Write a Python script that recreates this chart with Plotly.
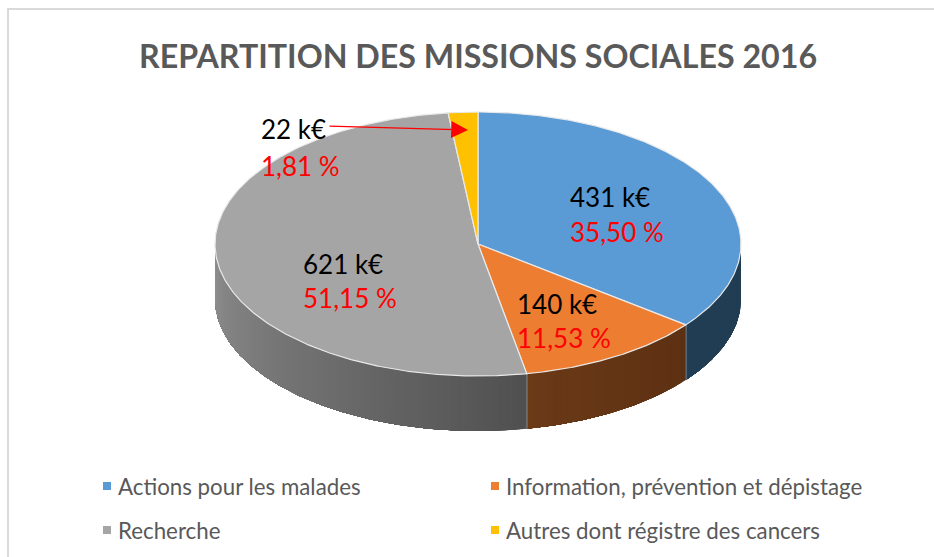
import math
import plotly.graph_objects as go

categories = ["Actions pour les malades", "Information, prévention et dépistage", "Recherche", "Autres dont régistre des cancers"]
amounts_keur = [431, 140, 621, 22]
percents = [35.50, 11.53, 51.15, 1.81]
colors = ["#5b9bd5", "#ed7d31", "#a5a5a5", "#ffc000"]
title_text = "REPARTITION DES MISSIONS SOCIALES 2016"

W, H = 934, 557
CX, CY, RX, RY, DEPTH = 478, 244, 263, 132, 55
label_pos = [(568, 197, 232), (515, 304, 338), (301, 264, 298), (259, 129, 166)]
legend_pos = [(106, 486), (494, 486), (106, 530), (494, 530)]
FONT = "Lato"


def pt(a, dy=0, k=1.0):
    r = math.radians(a)
    return CX + k * RX * math.sin(r), CY - k * RY * math.cos(r) + dy


def arc(a0, a1, dy=0):
    n = max(2, int(abs(a1 - a0) * 2))
    return [pt(a0 + (a1 - a0) * i / n, dy) for i in range(n + 1)]


def mix(c0, c1, t):
    return "rgb(%d,%d,%d)" % tuple(round(u + (v - u) * t) for u, v in zip(c0, c1))


side_ramp = [((33, 61, 84), (33, 61, 84)), ((92, 48, 18), (107, 58, 23)), ((80, 80, 80), (143, 143, 143))]

fig = go.Figure()
total = sum(amounts_keur)
edges = [0]
for v in amounts_keur:
    edges.append(edges[-1] + 360 * v / total)


def poly(points, fill, line=None, width=0):
    xs = [p[0] for p in points]
    ys = [p[1] for p in points]
    fig.add_trace(go.Scatter(x=xs, y=ys, mode="lines", fill="toself", fillcolor=fill,
                             line=dict(color=line or fill, width=width),
                             hoverinfo="skip", showlegend=False))


# extruded wall: only the front half (90 to 270 degrees) can be seen
for i in range(3):
    a0, a1 = max(edges[i], 90), min(edges[i + 1], 270)
    if a1 <= a0:
        continue
    n = max(2, int((a1 - a0) / 1.5))
    # each band reaches to the end of the slice and is overpainted by the next, so no seams appear
    for j in range(n):
        s0 = a0 + (a1 - a0) * j / n
        c = mix(side_ramp[i][0], side_ramp[i][1], (j + 0.5) / n)
        pts = arc(s0, a1) + arc(a1, s0, DEPTH)
        poly(pts + [pts[0]], c)
    if edges[i + 1] < 270:
        p0, p1 = pt(edges[i + 1]), pt(edges[i + 1], DEPTH)
        fig.add_trace(go.Scatter(x=[p0[0], p1[0]], y=[p0[1], p1[1]], mode="lines",
                                 line=dict(color="#d9d9d9", width=1), hoverinfo="skip", showlegend=False))

# top face
for i in range(4):
    poly([(CX, CY)] + arc(edges[i], edges[i + 1]) + [(CX, CY)], colors[i], "#e9e9e9", 1.2)

# legend
for col, (lx, ly) in zip(colors, legend_pos):
    fig.add_trace(go.Scatter(x=[lx + 1], y=[ly], mode="markers",
                             marker=dict(symbol="square", size=8, color=col),
                             hoverinfo="skip", showlegend=False))

ann = []
for name, (lx, ly) in zip(categories, legend_pos):
    ann.append(dict(x=lx + 10, y=ly, text=name, showarrow=False, xanchor="left", yanchor="middle",
                    font=dict(family=FONT, size=22.3, color="#595959")))
for amt, pc, (lx, y0, y1) in zip(amounts_keur, percents, label_pos):
    ann.append(dict(x=lx, y=y0, text=f"{amt} k€", showarrow=False, xanchor="left", yanchor="middle",
                    font=dict(family=FONT, size=26, color="#000000")))
    ann.append(dict(x=lx, y=y1, text=f"{pc:.2f} %".replace(".", ","), showarrow=False, xanchor="left", yanchor="middle",
                    font=dict(family=FONT, size=26, color="#ff0000")))
ann.append(dict(x=478, y=55, text=f"<b>{title_text}</b>", showarrow=False, xanchor="center", yanchor="middle",
                font=dict(family=FONT, size=32.2, color="#595959")))
ann.append(dict(x=468, y=130, ax=328, ay=126, axref="x", ayref="y", xref="x", yref="y", text="", showarrow=True,
                arrowhead=2, arrowsize=2.8, arrowwidth=1.2, arrowcolor="#ff0000"))

fig.update_layout(
    width=W, height=H, margin=dict(l=0, r=0, t=0, b=0), paper_bgcolor="white", plot_bgcolor="white",
    xaxis=dict(range=[0, W], visible=False, fixedrange=True),
    yaxis=dict(range=[H, 0], visible=False, fixedrange=True),
    annotations=ann, showlegend=False,
    shapes=[dict(type="path", path=f"M 8 {H} L 8 9 L {W} 9", xref="x", yref="y",
                 line=dict(color="#d9d9d9", width=2))],
)
fig.write_html("out.html", config=dict(displayModeBar=False),
               post_script="document.body.style.margin='0';document.documentElement.style.overflow='hidden';")
